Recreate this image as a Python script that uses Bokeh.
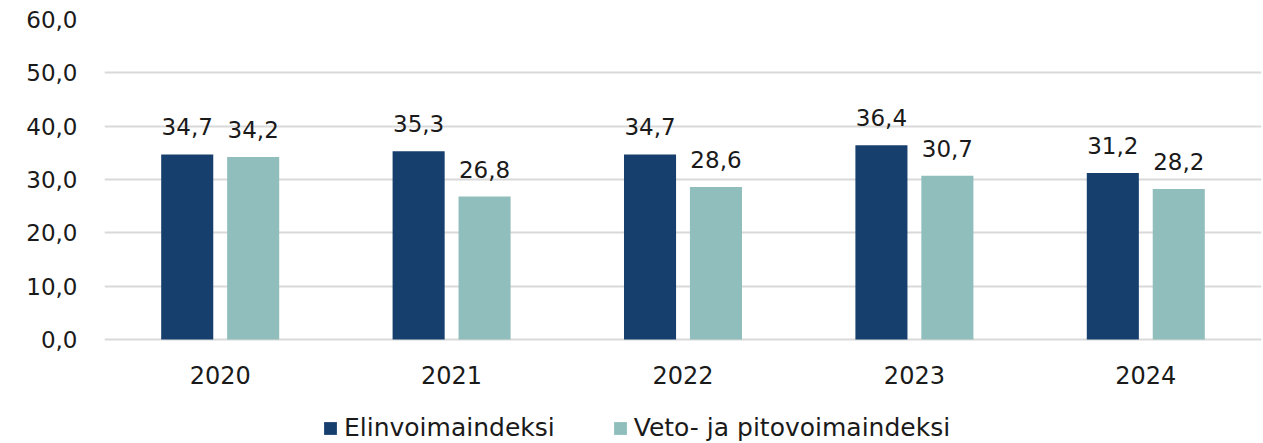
from bokeh.plotting import figure
from bokeh.models import ColumnDataSource, FixedTicker, Legend, LegendItem, Range1d
from bokeh.transform import dodge
from bokeh.core.properties import value
from bokeh.embed import file_html
from bokeh.resources import INLINE

years = ["2020", "2021", "2022", "2023", "2024"]
elinvoima = [34.7, 35.3, 34.7, 36.4, 31.2]
veto = [34.2, 26.8, 28.6, 30.7, 28.2]
series_names = ["Elinvoimaindeksi", "Veto- ja pitovoimaindeksi"]
y_ticks = [0, 10, 20, 30, 40, 50, 60]

FONT = "DejaVu Sans"
FS = "23px"
DARK = "#163F6D"
LIGHT = "#8FBEBC"
TXT = "#1a1a1a"
GRID = "#d9d9d9"

def fmt(v):
    return f"{v:.1f}".replace(".", ",")

src = ColumnDataSource(dict(
    year=years, a=elinvoima, b=veto, zero=[0] * len(years),
    la=[fmt(v) for v in elinvoima], lb=[fmt(v) for v in veto],
))

# frame extends below zero so the year labels and legend live inside it
p = figure(x_range=years, y_range=Range1d(-19.5, 60), frame_width=1157, frame_height=424,
           output_backend="svg", toolbar_location=None,
           min_border_left=104, min_border_right=2, min_border_top=19, min_border_bottom=0)
p.x_range.range_padding = 0
p.outline_line_color = None

off = 0.1425
w = 0.225
r1 = p.vbar(x=dodge("year", -off, range=p.x_range), top="a", width=w, source=src,
            fill_color=DARK, line_color=None)
r2 = p.vbar(x=dodge("year", off, range=p.x_range), top="b", width=w, source=src,
            fill_color=LIGHT, line_color=None)

p.text(x=dodge("year", -off, range=p.x_range), y="a", text="la", source=src,
       text_align="center", text_baseline="bottom", y_offset=-19,
       text_font=value(FONT), text_font_size=FS, text_color=TXT)
p.text(x=dodge("year", off, range=p.x_range), y="b", text="lb", source=src,
       text_align="center", text_baseline="bottom", y_offset=-19,
       text_font=value(FONT), text_font_size=FS, text_color=TXT)

# category labels (x axis)
p.text(x="year", y="zero", text="year", source=src,
       text_align="center", text_baseline="middle", y_offset=35,
       text_font=value(FONT), text_font_size="24px", text_color=TXT)

p.xaxis.visible = False

# y axis
p.yaxis.ticker = FixedTicker(ticks=y_ticks)
p.yaxis.major_label_overrides = {t: fmt(t) for t in y_ticks}
p.yaxis.axis_line_color = None
p.yaxis.major_tick_line_color = None
p.yaxis.minor_tick_line_color = None
p.yaxis.major_label_text_font = FONT
p.yaxis.major_label_text_font_size = FS
p.yaxis.major_label_text_color = TXT
p.yaxis.major_label_standoff = 21

p.xgrid.grid_line_color = None
p.ygrid.ticker = FixedTicker(ticks=y_ticks)
p.ygrid.grid_line_color = GRID
p.ygrid.grid_line_width = 2

legend = Legend(items=[LegendItem(label=series_names[0], renderers=[r1]),
                       LegendItem(label=series_names[1], renderers=[r2])],
                orientation="horizontal", location=(218, 1),
                label_text_font=FONT, label_text_font_size="25px",
                label_text_color=TXT,
                glyph_width=16, glyph_height=16, spacing=57,
                label_standoff=6, border_line_color=None,
                background_fill_alpha=0, margin=0, padding=0)
p.add_layout(legend, "center")

open("out.html", "w").write(file_html(p, INLINE))
